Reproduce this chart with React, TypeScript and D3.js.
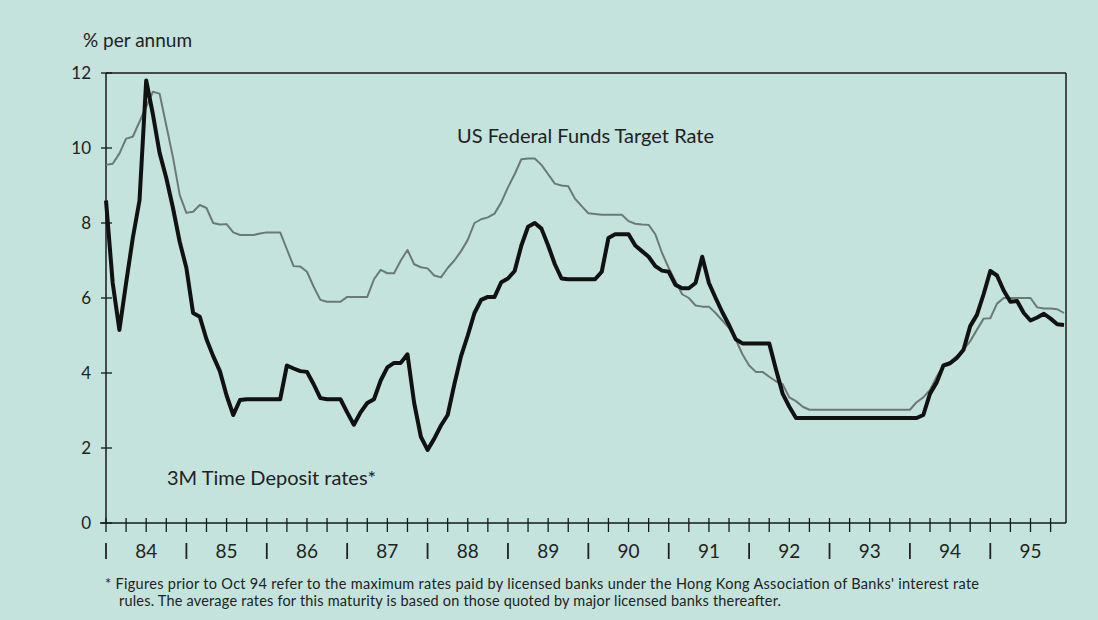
import React from "react";
import * as d3 from "d3";

// monthly values, Jan 1984 .. Dec 1995
const hkDeposit = [
  8.6, 6.4, 5.15, 6.4, 7.6, 8.6, 11.8, 10.9, 9.87, 9.2, 8.4, 7.5,
  6.8, 5.6, 5.5, 4.9, 4.45, 4.05, 3.4, 2.88, 3.28, 3.3, 3.3, 3.3,
  3.3, 3.3, 3.3, 4.2, 4.12, 4.05, 4.03, 3.7, 3.33, 3.3, 3.3, 3.3,
  2.95, 2.62, 2.95, 3.2, 3.3, 3.8, 4.15, 4.27, 4.27, 4.5, 3.2, 2.3,
  1.95, 2.25, 2.6, 2.88, 3.7, 4.45, 5.0, 5.6, 5.95, 6.03, 6.03, 6.42,
  6.52, 6.72, 7.4, 7.9, 8.0, 7.85, 7.4, 6.9, 6.52, 6.5, 6.5, 6.5,
  6.5, 6.5, 6.7, 7.6, 7.7, 7.7, 7.7, 7.4, 7.25, 7.1, 6.85, 6.73,
  6.7, 6.35, 6.26, 6.26, 6.4, 7.1, 6.4, 6.0, 5.62, 5.28, 4.9, 4.79,
  4.79, 4.79, 4.79, 4.79, 4.1, 3.45, 3.1, 2.8, 2.8, 2.8, 2.8, 2.8,
  2.8, 2.8, 2.8, 2.8, 2.8, 2.8, 2.8, 2.8, 2.8, 2.8, 2.8, 2.8,
  2.8, 2.8, 2.88, 3.45, 3.75, 4.2, 4.26, 4.4, 4.62, 5.25, 5.55, 6.1,
  6.72, 6.6, 6.2, 5.9, 5.92, 5.6, 5.4, 5.48, 5.58, 5.45, 5.3, 5.28,
];

const usFedFunds = [
  9.55, 9.58, 9.85, 10.25, 10.3, 10.7, 11.1, 11.5, 11.45, 10.6, 9.75, 8.75,
  8.27, 8.3, 8.48, 8.4, 8.0, 7.96, 7.97, 7.75, 7.68, 7.68, 7.68, 7.72,
  7.75, 7.75, 7.75, 7.3, 6.85, 6.84, 6.7, 6.3, 5.95, 5.9, 5.9, 5.9,
  6.03, 6.03, 6.03, 6.03, 6.5, 6.75, 6.66, 6.66, 7.0, 7.28, 6.9, 6.82,
  6.79, 6.6, 6.55, 6.8, 7.0, 7.25, 7.55, 8.0, 8.1, 8.15, 8.25, 8.55,
  8.95, 9.3, 9.7, 9.72, 9.72, 9.55, 9.3, 9.05, 9.0, 8.98, 8.65, 8.45,
  8.26, 8.24, 8.22, 8.22, 8.22, 8.22, 8.05, 7.98, 7.96, 7.95, 7.7, 7.2,
  6.8, 6.45, 6.1, 6.0, 5.8, 5.77, 5.77, 5.6, 5.4, 5.2, 4.9, 4.5,
  4.2, 4.03, 4.03, 3.9, 3.78, 3.7, 3.35, 3.25, 3.1, 3.02, 3.02, 3.02,
  3.02, 3.02, 3.02, 3.02, 3.02, 3.02, 3.02, 3.02, 3.02, 3.02, 3.02, 3.02,
  3.02, 3.22, 3.35, 3.55, 3.9, 4.2, 4.3, 4.45, 4.62, 4.85, 5.15, 5.45,
  5.46, 5.85, 6.0, 6.0, 6.0, 6.0, 6.0, 5.75, 5.72, 5.72, 5.7, 5.6,
];

const years = ["84", "85", "86", "87", "88", "89", "90", "91", "92", "93", "94", "95"];
const yTicks = [0, 2, 4, 6, 8, 10, 12];

const font = "Lato, 'Open Sans', sans-serif";

export default function App() {
  const width = 1098;
  const height = 620;

  const x = d3.scaleLinear().domain([0, 143.3]).range([106, 1066]);
  const y = d3.scaleLinear().domain([0, 12]).range([523, 73]);

  const line = d3
    .line<number>()
    .x((d, i) => x(i))
    .y(d => y(d));

  const quarters = d3.range(0, 144, 3);

  return (
    <svg
      width={width}
      height={height}
      style={{ position: "absolute", left: 0, top: 0, fontFamily: font }}
    >
      <rect width={width} height={height} fill="#c4e3dc" />

      {/* frame */}
      <g stroke="#1a1a1a" strokeWidth={1.5} fill="none">
        <line x1={x(0)} x2={x(0)} y1={y(0)} y2={y(12)} />
        <line x1={x(0)} x2={x(143.3)} y1={y(12)} y2={y(12)} />
        <line x1={x(143.3)} x2={x(143.3)} y1={y(12)} y2={y(0)} />
        <line x1={x(0) - 6} x2={x(143.3)} y1={y(0)} y2={y(0)} />
      </g>

      {/* y axis */}
      {yTicks.map(t => (
        <g key={t}>
          <line x1={x(0) - 5} x2={x(0) + 6} y1={y(t)} y2={y(t)} stroke="#1a1a1a" strokeWidth={1.3} />
          <text x={91} y={y(t)} dy="0.36em" textAnchor="end" fontSize={17} fill="#222">
            {t}
          </text>
        </g>
      ))}
      <text x={83} y={47} fontSize={19} fill="#222">% per annum</text>

      {/* x axis */}
      {quarters.map(q => (
        <line key={q} x1={x(q)} x2={x(q)} y1={y(0) - 5} y2={y(0) + 9} stroke="#1a1a1a" strokeWidth={1.3} />
      ))}
      {years.map((yr, i) => (
        <g key={yr}>
          <line x1={x(i * 12)} x2={x(i * 12)} y1={543} y2={559} stroke="#222" strokeWidth={1.8} />
          <text x={x(i * 12 + 6)} y={558} textAnchor="middle" fontSize={19} fill="#222">
            {yr}
          </text>
        </g>
      ))}

      {/* series */}
      <path d={line(usFedFunds) || ""} fill="none" stroke="#6b7a75" strokeWidth={2} strokeLinejoin="round" />
      <path d={line(hkDeposit) || ""} fill="none" stroke="#111" strokeWidth={4} strokeLinejoin="round" />

      <text x={457} y={143} fontSize={20} fill="#222">US Federal Funds Target Rate</text>
      <text x={167} y={485} fontSize={20} fill="#222">3M Time Deposit rates*</text>

      <g fontSize={14.5} fill="#222">
        <text x={105} y={589} textLength={874} lengthAdjust="spacing">
          * Figures  prior to Oct 94 refer to the maximum rates paid by licensed banks under the Hong Kong Association of Banks' interest rate
        </text>
        <text x={119} y={606} textLength={662} lengthAdjust="spacing">
          rules. The average rates for this maturity is based on those quoted by major licensed banks thereafter.
        </text>
      </g>
    </svg>
  );
}
